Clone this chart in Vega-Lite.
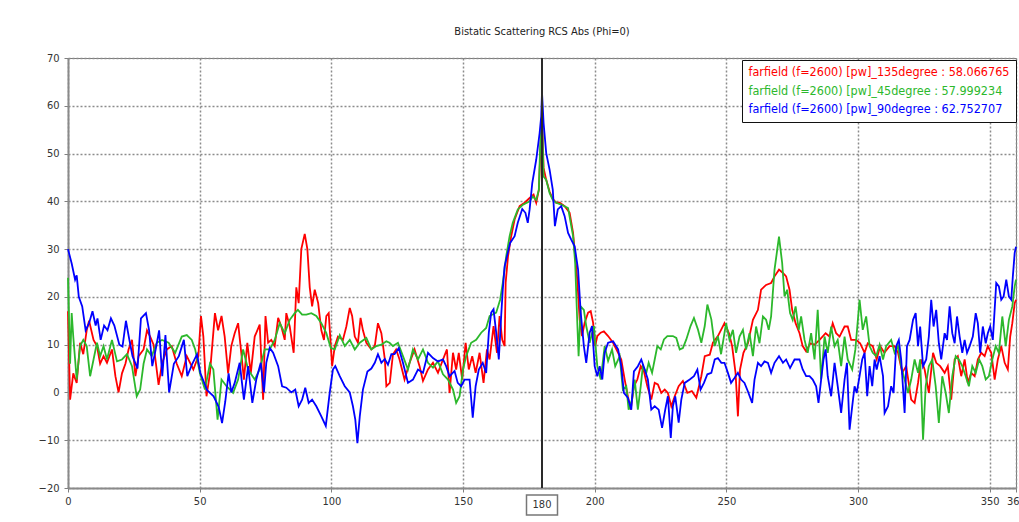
{
  "$schema": "https://vega.github.io/schema/vega-lite/v6.json",
  "width": 948,
  "height": 430,
  "autosize": {"type": "none"},
  "padding": {"left": 68, "top": 58, "right": 3, "bottom": 34},
  "background": "white",
  "title": {
    "text": "Bistatic Scattering RCS Abs (Phi=0)",
    "font": "DejaVu Sans Condensed, DejaVu Sans",
    "fontSize": 11,
    "fontWeight": "normal",
    "color": "#222222",
    "offset": 15
  },
  "config": {
    "font": "DejaVu Sans Condensed, DejaVu Sans",
    "view": {"stroke": "#7a7a7a", "strokeWidth": 1}
  },
  "datasets": {
    "deg135": [
      {"angle":0,"rcs":17},{"angle":0.8,"rcs":-1.5},{"angle":2,"rcs":4},{"angle":3.3,"rcs":2},{"angle":4.6,"rcs":10.4},{"angle":5.8,"rcs":8},{"angle":7.1,"rcs":13},{"angle":8,"rcs":15},{"angle":9.7,"rcs":11},{"angle":11,"rcs":9.7},{"angle":12.2,"rcs":6},{"angle":13.5,"rcs":7.6},{"angle":14.8,"rcs":6.2},{"angle":16.7,"rcs":9},{"angle":18,"rcs":3.4},{"angle":19.2,"rcs":0},{"angle":20.5,"rcs":4},{"angle":21.8,"rcs":6},{"angle":23,"rcs":9},{"angle":24.3,"rcs":11},{"angle":25.6,"rcs":3.4},{"angle":26.8,"rcs":7.6},{"angle":28.7,"rcs":9},{"angle":30,"rcs":13},{"angle":31.2,"rcs":11.7},{"angle":32.5,"rcs":10},{"angle":34.4,"rcs":1.6},{"angle":35.7,"rcs":6},{"angle":37.5,"rcs":9},{"angle":39.4,"rcs":9.7},{"angle":41.3,"rcs":6},{"angle":43.2,"rcs":3.4},{"angle":45.1,"rcs":7.6},{"angle":47.6,"rcs":4.8},{"angle":49.5,"rcs":7.6},{"angle":50.5,"rcs":16},{"angle":51.4,"rcs":11.7},{"angle":52.6,"rcs":-0.8},{"angle":53.9,"rcs":4},{"angle":55.8,"rcs":16.6},{"angle":57,"rcs":13},{"angle":58.3,"rcs":16},{"angle":59.5,"rcs":11.7},{"angle":60.8,"rcs":4},{"angle":62,"rcs":9.7},{"angle":63.3,"rcs":12.4},{"angle":64.6,"rcs":14.5},{"angle":65.8,"rcs":8.3},{"angle":66.8,"rcs":2.7},{"angle":68.1,"rcs":10.4},{"angle":69.4,"rcs":4},{"angle":70.9,"rcs":11.7},{"angle":72.8,"rcs":14.2},{"angle":74.1,"rcs":-1.5},{"angle":75,"rcs":16},{"angle":76,"rcs":10.4},{"angle":77.2,"rcs":11},{"angle":78.5,"rcs":9.7},{"angle":79.8,"rcs":15.6},{"angle":81,"rcs":13.8},{"angle":82.3,"rcs":11},{"angle":82.9,"rcs":16.6},{"angle":84.2,"rcs":13.8},{"angle":85.7,"rcs":8.3},{"angle":86.7,"rcs":22},{"angle":87.6,"rcs":18.7},{"angle":88.6,"rcs":30},{"angle":89.9,"rcs":33.2},{"angle":90.9,"rcs":30},{"angle":91.8,"rcs":22},{"angle":92.7,"rcs":18},{"angle":93.7,"rcs":21.5},{"angle":95,"rcs":18.7},{"angle":96.2,"rcs":13},{"angle":97.2,"rcs":11},{"angle":98.1,"rcs":16},{"angle":99,"rcs":16.6},{"angle":100.3,"rcs":5.5},{"angle":101.3,"rcs":9.7},{"angle":102.5,"rcs":11.7},{"angle":104.4,"rcs":11},{"angle":105.7,"rcs":13.8},{"angle":107,"rcs":17.7},{"angle":107.9,"rcs":16},{"angle":108.9,"rcs":11.7},{"angle":110.1,"rcs":10.4},{"angle":111.1,"rcs":15.6},{"angle":112,"rcs":13},{"angle":113.3,"rcs":10.4},{"angle":115.2,"rcs":9},{"angle":116.5,"rcs":9.7},{"angle":117.7,"rcs":14.5},{"angle":119,"rcs":12.4},{"angle":120.3,"rcs":7},{"angle":120.9,"rcs":1.3},{"angle":122.2,"rcs":2},{"angle":123.4,"rcs":8},{"angle":124.6,"rcs":9},{"angle":125.9,"rcs":6.9},{"angle":127.8,"rcs":2.7},{"angle":129.7,"rcs":6.2},{"angle":131.6,"rcs":9},{"angle":133.5,"rcs":5.5},{"angle":134.8,"rcs":2.4},{"angle":136.7,"rcs":4.8},{"angle":138.6,"rcs":6.2},{"angle":140.5,"rcs":4.1},{"angle":142.4,"rcs":6.9},{"angle":143.9,"rcs":9},{"angle":144.9,"rcs":-0.1},{"angle":146.2,"rcs":8.3},{"angle":147.4,"rcs":4.8},{"angle":148.4,"rcs":8.3},{"angle":149.7,"rcs":2.7},{"angle":151,"rcs":10.4},{"angle":152.2,"rcs":4.8},{"angle":153.5,"rcs":7.6},{"angle":154.8,"rcs":4.1},{"angle":156.3,"rcs":8.3},{"angle":157.8,"rcs":2},{"angle":159.1,"rcs":9},{"angle":160.1,"rcs":6.9},{"angle":161.6,"rcs":13.9},{"angle":162.9,"rcs":8.3},{"angle":163.9,"rcs":16},{"angle":164.9,"rcs":11},{"angle":165.8,"rcs":9.7},{"angle":166.2,"rcs":23},{"angle":167.1,"rcs":28.5},{"angle":168.3,"rcs":32.7},{"angle":169.6,"rcs":36.2},{"angle":171.5,"rcs":39},{"angle":173.4,"rcs":39.7},{"angle":175.3,"rcs":40.7},{"angle":176.8,"rcs":41.4},{"angle":177.8,"rcs":39.7},{"angle":178.8,"rcs":42.4},{"angle":179.5,"rcs":52},{"angle":180,"rcs":58.066765},{"angle":180.6,"rcs":47},{"angle":181.6,"rcs":44.5},{"angle":182.9,"rcs":42},{"angle":184.1,"rcs":40.5},{"angle":185.4,"rcs":39.7},{"angle":186.7,"rcs":39.7},{"angle":188.6,"rcs":39},{"angle":190.5,"rcs":37.6},{"angle":191.8,"rcs":33.4},{"angle":192.6,"rcs":28.5},{"angle":193.4,"rcs":23.6},{"angle":194.3,"rcs":15.3},{"angle":195.2,"rcs":11.8},{"angle":196.2,"rcs":14.6},{"angle":197.5,"rcs":16.7},{"angle":198.5,"rcs":17},{"angle":199.4,"rcs":14.6},{"angle":200.2,"rcs":9.7},{"angle":201,"rcs":11.8},{"angle":202.3,"rcs":12.5},{"angle":203.5,"rcs":12.8},{"angle":205.1,"rcs":11.8},{"angle":207,"rcs":10.4},{"angle":208.9,"rcs":8.3},{"angle":210.1,"rcs":6.9},{"angle":211.4,"rcs":2.7},{"angle":212.6,"rcs":-0.8},{"angle":213.7,"rcs":-3.6},{"angle":214.9,"rcs":1.3},{"angle":216.2,"rcs":2.7},{"angle":217.5,"rcs":5.5},{"angle":218.7,"rcs":4.4},{"angle":220,"rcs":1.3},{"angle":221.5,"rcs":-1.5},{"angle":222.8,"rcs":2},{"angle":224,"rcs":1.7},{"angle":225.3,"rcs":-0.1},{"angle":226.6,"rcs":0.6},{"angle":227.8,"rcs":-0.1},{"angle":229.1,"rcs":-2.9},{"angle":230.4,"rcs":-0.8},{"angle":231.9,"rcs":1.3},{"angle":233.5,"rcs":2.4},{"angle":235.2,"rcs":-0.1},{"angle":236.9,"rcs":0.3},{"angle":238.6,"rcs":-1.1},{"angle":240.5,"rcs":3.4},{"angle":241.8,"rcs":7.6},{"angle":243.7,"rcs":7.9},{"angle":244.9,"rcs":10.4},{"angle":246.8,"rcs":11.8},{"angle":248.1,"rcs":13.2},{"angle":249.3,"rcs":14.5},{"angle":251,"rcs":12.4},{"angle":252.2,"rcs":9.7},{"angle":253.5,"rcs":4.1},{"angle":254.4,"rcs":-5},{"angle":255.2,"rcs":4.8},{"angle":256.5,"rcs":8.3},{"angle":258.2,"rcs":10.3},{"angle":260.1,"rcs":15.2},{"angle":262,"rcs":17.3},{"angle":263.2,"rcs":21.5},{"angle":265.1,"rcs":22.5},{"angle":267,"rcs":22.9},{"angle":268.3,"rcs":24.3},{"angle":270,"rcs":25.7},{"angle":271.5,"rcs":25},{"angle":272.7,"rcs":24.3},{"angle":274,"rcs":21.5},{"angle":275,"rcs":17.3},{"angle":276.3,"rcs":14.5},{"angle":277.8,"rcs":12.4},{"angle":279,"rcs":9.7},{"angle":280.3,"rcs":8.6},{"angle":281.8,"rcs":10.3},{"angle":283.5,"rcs":10},{"angle":285.4,"rcs":11},{"angle":287.7,"rcs":12.4},{"angle":289.2,"rcs":11.7},{"angle":290.4,"rcs":14.5},{"angle":291.7,"rcs":12.4},{"angle":293,"rcs":11.7},{"angle":294.9,"rcs":13.8},{"angle":296.1,"rcs":13.8},{"angle":297.4,"rcs":11},{"angle":299.3,"rcs":11},{"angle":300.8,"rcs":10.3},{"angle":302.5,"rcs":8.3},{"angle":303.7,"rcs":10.3},{"angle":305.6,"rcs":9.7},{"angle":307.1,"rcs":6.9},{"angle":308.4,"rcs":9.7},{"angle":310,"rcs":8.3},{"angle":312,"rcs":9.7},{"angle":313.9,"rcs":9.7},{"angle":315.2,"rcs":8.3},{"angle":316.8,"rcs":4.1},{"angle":318.3,"rcs":5.5},{"angle":320.2,"rcs":-1.5},{"angle":321.5,"rcs":-2.2},{"angle":322.8,"rcs":2},{"angle":324,"rcs":6.9},{"angle":325.3,"rcs":4.8},{"angle":326.9,"rcs":-0.1},{"angle":328.5,"rcs":8.3},{"angle":329.7,"rcs":6.2},{"angle":331.2,"rcs":5.5},{"angle":332.9,"rcs":4.1},{"angle":334.1,"rcs":5.5},{"angle":335.4,"rcs":-1.5},{"angle":336.7,"rcs":6.9},{"angle":337.9,"rcs":7.6},{"angle":339.2,"rcs":3.4},{"angle":340.5,"rcs":6.9},{"angle":341.7,"rcs":2},{"angle":343,"rcs":4.1},{"angle":344.3,"rcs":3.4},{"angle":345.5,"rcs":6.9},{"angle":346.8,"rcs":8.3},{"angle":348.1,"rcs":7.6},{"angle":349.3,"rcs":9.7},{"angle":350.6,"rcs":8.3},{"angle":351.9,"rcs":2.7},{"angle":353.1,"rcs":6.9},{"angle":354.4,"rcs":9.7},{"angle":355.7,"rcs":6.2},{"angle":356.9,"rcs":4.8},{"angle":357.8,"rcs":11.7},{"angle":358.6,"rcs":14.5},{"angle":359.5,"rcs":18.7},{"angle":360,"rcs":19.4}
    ],
    "deg45": [
      {"angle":0,"rcs":24},{"angle":0.8,"rcs":6},{"angle":1.4,"rcs":16.6},{"angle":2,"rcs":11.7},{"angle":3.3,"rcs":2.7},{"angle":4.6,"rcs":9.7},{"angle":5.8,"rcs":11},{"angle":7.1,"rcs":9.7},{"angle":8.4,"rcs":3.4},{"angle":9.7,"rcs":6.9},{"angle":11,"rcs":10.4},{"angle":12.2,"rcs":7.6},{"angle":13.5,"rcs":9.7},{"angle":14.8,"rcs":6.9},{"angle":16.7,"rcs":11},{"angle":18.6,"rcs":6.5},{"angle":20.5,"rcs":6.9},{"angle":22.4,"rcs":8},{"angle":24.3,"rcs":5.5},{"angle":26.1,"rcs":-0.8},{"angle":27.4,"rcs":0.6},{"angle":28.7,"rcs":6},{"angle":30,"rcs":9},{"angle":31.8,"rcs":7.6},{"angle":33.7,"rcs":10.4},{"angle":35.7,"rcs":11},{"angle":38.2,"rcs":10.4},{"angle":40.7,"rcs":8.3},{"angle":43.2,"rcs":11.7},{"angle":45.1,"rcs":12},{"angle":47,"rcs":11},{"angle":48.3,"rcs":9},{"angle":50.1,"rcs":4},{"angle":52,"rcs":0.6},{"angle":53.9,"rcs":6},{"angle":55.2,"rcs":4.8},{"angle":56.8,"rcs":-5.7},{"angle":58.3,"rcs":2.7},{"angle":60.2,"rcs":1.3},{"angle":62.7,"rcs":-0.1},{"angle":64.6,"rcs":2.7},{"angle":66.5,"rcs":9},{"angle":68.4,"rcs":4.8},{"angle":70.9,"rcs":2.7},{"angle":72.8,"rcs":4.8},{"angle":74.7,"rcs":9},{"angle":76.6,"rcs":9},{"angle":78.5,"rcs":11},{"angle":80.4,"rcs":14.5},{"angle":82.3,"rcs":12.4},{"angle":84.2,"rcs":15.2},{"angle":86.1,"rcs":16.6},{"angle":87.3,"rcs":17.3},{"angle":88.9,"rcs":16.3},{"angle":90.5,"rcs":16.3},{"angle":92.4,"rcs":16.6},{"angle":94.3,"rcs":16},{"angle":96.2,"rcs":14.5},{"angle":98.1,"rcs":12.4},{"angle":99.8,"rcs":9.3},{"angle":101.3,"rcs":9},{"angle":103.2,"rcs":12},{"angle":105.1,"rcs":9.7},{"angle":107,"rcs":11},{"angle":108.9,"rcs":9},{"angle":110.8,"rcs":10.4},{"angle":113.3,"rcs":11.4},{"angle":115.2,"rcs":9},{"angle":117.1,"rcs":9.7},{"angle":119,"rcs":10},{"angle":120.9,"rcs":10.7},{"angle":122.1,"rcs":10.4},{"angle":123.4,"rcs":9.7},{"angle":125.3,"rcs":10.4},{"angle":127.2,"rcs":7.6},{"angle":129.1,"rcs":4.8},{"angle":131,"rcs":9},{"angle":132.9,"rcs":6.9},{"angle":134.8,"rcs":9},{"angle":136.7,"rcs":6.2},{"angle":138.6,"rcs":5.2},{"angle":140.5,"rcs":6.5},{"angle":142.4,"rcs":3.8},{"angle":144.3,"rcs":2.7},{"angle":146.2,"rcs":0.6},{"angle":147.4,"rcs":-2.2},{"angle":148.7,"rcs":-0.8},{"angle":150,"rcs":4.8},{"angle":151.2,"rcs":7.6},{"angle":153.1,"rcs":10.4},{"angle":155,"rcs":11},{"angle":156.9,"rcs":12.5},{"angle":158.8,"rcs":13.5},{"angle":160.1,"rcs":16},{"angle":162.6,"rcs":16.7},{"angle":164.1,"rcs":19.4},{"angle":165.1,"rcs":22.9},{"angle":166.4,"rcs":28.5},{"angle":167.7,"rcs":32.7},{"angle":168.9,"rcs":35.5},{"angle":170.8,"rcs":38.3},{"angle":172.8,"rcs":39.3},{"angle":175.3,"rcs":40},{"angle":176.5,"rcs":41},{"angle":177.8,"rcs":40.3},{"angle":178.8,"rcs":42.4},{"angle":179.3,"rcs":51.5},{"angle":180,"rcs":57.999234},{"angle":180.6,"rcs":45.2},{"angle":181.6,"rcs":44.5},{"angle":182.9,"rcs":41.7},{"angle":184.1,"rcs":40.3},{"angle":185.4,"rcs":39.7},{"angle":187.3,"rcs":39.3},{"angle":189.9,"rcs":38.6},{"angle":191.8,"rcs":32.7},{"angle":192.6,"rcs":27.1},{"angle":193.4,"rcs":14.6},{"angle":193.9,"rcs":7.6},{"angle":194.7,"rcs":18},{"angle":195.9,"rcs":17.3},{"angle":196.8,"rcs":13.9},{"angle":198.1,"rcs":10.4},{"angle":199.7,"rcs":13.9},{"angle":201,"rcs":5.5},{"angle":202.3,"rcs":2.7},{"angle":203.8,"rcs":9.7},{"angle":205.1,"rcs":6.6},{"angle":206.6,"rcs":9},{"angle":207.8,"rcs":5.5},{"angle":209.5,"rcs":7.6},{"angle":210.7,"rcs":0.6},{"angle":212,"rcs":1.3},{"angle":212.9,"rcs":-3.6},{"angle":214.2,"rcs":-1.5},{"angle":215.2,"rcs":2.7},{"angle":216.4,"rcs":-3.6},{"angle":217.5,"rcs":1.3},{"angle":218.3,"rcs":5.5},{"angle":219.6,"rcs":4.1},{"angle":220.5,"rcs":6.2},{"angle":221.8,"rcs":4.1},{"angle":222.8,"rcs":6.9},{"angle":223.8,"rcs":9.7},{"angle":225.1,"rcs":9},{"angle":226.3,"rcs":11.1},{"angle":227.6,"rcs":11.8},{"angle":229.7,"rcs":11.8},{"angle":231,"rcs":11.4},{"angle":232.3,"rcs":9},{"angle":233.5,"rcs":9.3},{"angle":234.8,"rcs":11.1},{"angle":236.4,"rcs":13.9},{"angle":237.7,"rcs":15.6},{"angle":239.2,"rcs":13.2},{"angle":240.5,"rcs":10.4},{"angle":241.8,"rcs":13.9},{"angle":242.8,"rcs":18.4},{"angle":244.3,"rcs":15.3},{"angle":245.6,"rcs":9.7},{"angle":246.8,"rcs":11.8},{"angle":248,"rcs":8},{"angle":249.9,"rcs":14.5},{"angle":251.2,"rcs":11},{"angle":252.5,"rcs":13.1},{"angle":253.7,"rcs":8.3},{"angle":255,"rcs":11.7},{"angle":256.3,"rcs":13.1},{"angle":257.5,"rcs":9},{"angle":258.8,"rcs":12.4},{"angle":260.1,"rcs":7.6},{"angle":261.3,"rcs":13.8},{"angle":262.6,"rcs":10.3},{"angle":263.9,"rcs":15.9},{"angle":265.1,"rcs":15.2},{"angle":266.1,"rcs":13.1},{"angle":267,"rcs":15.9},{"angle":268.3,"rcs":25.7},{"angle":270,"rcs":32.6},{"angle":271.2,"rcs":27.1},{"angle":272.1,"rcs":20.1},{"angle":273.1,"rcs":21.5},{"angle":274.2,"rcs":16.6},{"angle":275.2,"rcs":15.2},{"angle":276.3,"rcs":18},{"angle":277.5,"rcs":13.1},{"angle":278.4,"rcs":15.9},{"angle":279.7,"rcs":11},{"angle":280.9,"rcs":8.3},{"angle":282.2,"rcs":12.4},{"angle":283.5,"rcs":6.9},{"angle":284.7,"rcs":17.3},{"angle":286,"rcs":2.7},{"angle":287.3,"rcs":11.7},{"angle":288.5,"rcs":8.3},{"angle":289.8,"rcs":13.8},{"angle":291.1,"rcs":9.7},{"angle":292.3,"rcs":11},{"angle":293.6,"rcs":5.5},{"angle":294.9,"rcs":11.7},{"angle":296.1,"rcs":6.9},{"angle":297.8,"rcs":4.8},{"angle":299,"rcs":9},{"angle":300.6,"rcs":19.4},{"angle":301.8,"rcs":13.1},{"angle":303.1,"rcs":15.9},{"angle":304.4,"rcs":9.7},{"angle":305.6,"rcs":8.3},{"angle":306.9,"rcs":7.6},{"angle":308.2,"rcs":10},{"angle":309.5,"rcs":6.9},{"angle":310.7,"rcs":9.7},{"angle":312.6,"rcs":11},{"angle":313.9,"rcs":8.3},{"angle":315.2,"rcs":9.7},{"angle":316.4,"rcs":5.5},{"angle":317.7,"rcs":2.7},{"angle":319,"rcs":-0.1},{"angle":320.2,"rcs":2.7},{"angle":321.5,"rcs":6.9},{"angle":322.8,"rcs":4.1},{"angle":323.6,"rcs":6.9},{"angle":324.7,"rcs":-9.9},{"angle":325.7,"rcs":1.3},{"angle":326.9,"rcs":5.5},{"angle":328.2,"rcs":6.9},{"angle":329.5,"rcs":1.3},{"angle":330.7,"rcs":-6.4},{"angle":332,"rcs":3.4},{"angle":333.3,"rcs":-0.1},{"angle":334.5,"rcs":-4.3},{"angle":335.8,"rcs":3.4},{"angle":337.1,"rcs":7.6},{"angle":338.3,"rcs":6.9},{"angle":339.6,"rcs":5.5},{"angle":340.9,"rcs":3.4},{"angle":342.1,"rcs":1.3},{"angle":343.4,"rcs":5.5},{"angle":344.7,"rcs":4.1},{"angle":346,"rcs":6.9},{"angle":347.2,"rcs":5.5},{"angle":348.5,"rcs":2.7},{"angle":349.7,"rcs":3.4},{"angle":351,"rcs":6.9},{"angle":352.3,"rcs":9.7},{"angle":353.5,"rcs":8.3},{"angle":354.8,"rcs":15.9},{"angle":356.1,"rcs":9.7},{"angle":357.3,"rcs":15.2},{"angle":358.6,"rcs":18},{"angle":359.5,"rcs":22.2},{"angle":360,"rcs":23.6}
    ],
    "deg90": [
      {"angle":0,"rcs":30},{"angle":1.4,"rcs":27},{"angle":2.7,"rcs":23.6},{"angle":3.3,"rcs":24.5},{"angle":4.1,"rcs":20},{"angle":5.4,"rcs":18},{"angle":6.7,"rcs":13},{"angle":8,"rcs":14.5},{"angle":9.3,"rcs":17},{"angle":10.5,"rcs":14},{"angle":11.2,"rcs":15.5},{"angle":12.4,"rcs":11},{"angle":13.7,"rcs":14},{"angle":15,"rcs":13},{"angle":16.3,"rcs":15.5},{"angle":17.6,"rcs":14},{"angle":19.5,"rcs":10},{"angle":20.7,"rcs":9.6},{"angle":22,"rcs":15},{"angle":23.3,"rcs":11},{"angle":24.5,"rcs":7.6},{"angle":26.4,"rcs":5},{"angle":27.7,"rcs":15.5},{"angle":29.6,"rcs":16.6},{"angle":30.8,"rcs":13},{"angle":32,"rcs":5.5},{"angle":33.3,"rcs":9},{"angle":34.6,"rcs":13},{"angle":35.8,"rcs":3.4},{"angle":37,"rcs":12},{"angle":38.4,"rcs":0},{"angle":40.2,"rcs":6},{"angle":42.1,"rcs":7.6},{"angle":44,"rcs":11},{"angle":45.3,"rcs":3.4},{"angle":47.2,"rcs":6},{"angle":49,"rcs":8},{"angle":50.3,"rcs":4},{"angle":52.8,"rcs":0.5},{"angle":55.3,"rcs":-0.8},{"angle":57.2,"rcs":-3},{"angle":58.5,"rcs":-6.4},{"angle":59.7,"rcs":-2},{"angle":61,"rcs":4},{"angle":62,"rcs":0},{"angle":63.3,"rcs":2},{"angle":65.2,"rcs":6.2},{"angle":66.8,"rcs":-1.5},{"angle":68.4,"rcs":5.5},{"angle":70,"rcs":-2.2},{"angle":71.5,"rcs":2.7},{"angle":73.2,"rcs":6.2},{"angle":74.4,"rcs":0},{"angle":75.3,"rcs":6.2},{"angle":76.6,"rcs":9.3},{"angle":77.9,"rcs":8.3},{"angle":79.8,"rcs":5.5},{"angle":81.3,"rcs":1.3},{"angle":82.9,"rcs":1},{"angle":84.8,"rcs":0},{"angle":86.3,"rcs":0.6},{"angle":87.6,"rcs":-2.9},{"angle":88.9,"rcs":-1.5},{"angle":90.1,"rcs":1},{"angle":91.4,"rcs":-2.2},{"angle":92.7,"rcs":-1.5},{"angle":94.3,"rcs":-2.9},{"angle":96.2,"rcs":-5},{"angle":97.9,"rcs":-7},{"angle":99.4,"rcs":0},{"angle":100.6,"rcs":4.8},{"angle":101.5,"rcs":5.5},{"angle":103.2,"rcs":3.4},{"angle":105.1,"rcs":1.3},{"angle":107,"rcs":0},{"angle":108.2,"rcs":-2.9},{"angle":109.1,"rcs":-5.7},{"angle":109.9,"rcs":-10.6},{"angle":110.8,"rcs":-5},{"angle":112,"rcs":0.6},{"angle":113.7,"rcs":4.4},{"angle":115.2,"rcs":5},{"angle":116.5,"rcs":6.2},{"angle":117.7,"rcs":8},{"angle":119,"rcs":6.2},{"angle":120.3,"rcs":7},{"angle":121.5,"rcs":5.8},{"angle":122.8,"rcs":8},{"angle":124,"rcs":8},{"angle":125.6,"rcs":9.3},{"angle":127.2,"rcs":6.2},{"angle":129.1,"rcs":2},{"angle":131,"rcs":2.7},{"angle":132.9,"rcs":4.8},{"angle":134.8,"rcs":4.1},{"angle":136.7,"rcs":8.3},{"angle":138.6,"rcs":7.2},{"angle":140.5,"rcs":6.5},{"angle":142.4,"rcs":6.9},{"angle":143.6,"rcs":5.5},{"angle":144.9,"rcs":3.4},{"angle":146.8,"rcs":4.5},{"angle":148,"rcs":2},{"angle":149.3,"rcs":1.3},{"angle":150.6,"rcs":2.7},{"angle":152.5,"rcs":2.7},{"angle":153.7,"rcs":-5.3},{"angle":154.8,"rcs":1.3},{"angle":156,"rcs":4.8},{"angle":157.5,"rcs":6.2},{"angle":158.8,"rcs":4.1},{"angle":159.8,"rcs":12.5},{"angle":160.7,"rcs":16.7},{"angle":161.6,"rcs":17.4},{"angle":162.6,"rcs":12.5},{"angle":163.6,"rcs":6.9},{"angle":164.5,"rcs":16},{"angle":165.1,"rcs":21.5},{"angle":165.8,"rcs":26.4},{"angle":166.7,"rcs":28.5},{"angle":167.9,"rcs":31.3},{"angle":169.6,"rcs":32.7},{"angle":170.8,"rcs":35.5},{"angle":172.5,"rcs":38.4},{"angle":173.7,"rcs":37.6},{"angle":174.6,"rcs":35.5},{"angle":175.3,"rcs":38.3},{"angle":176.3,"rcs":43.8},{"angle":177.8,"rcs":48.7},{"angle":179.1,"rcs":54.3},{"angle":179.7,"rcs":57.8},{"angle":180,"rcs":62.752707},{"angle":180.6,"rcs":56.4},{"angle":181.6,"rcs":50.1},{"angle":182.9,"rcs":46.6},{"angle":184.1,"rcs":42.4},{"angle":184.9,"rcs":34.8},{"angle":186,"rcs":38.3},{"angle":187.3,"rcs":39},{"angle":188.6,"rcs":36.9},{"angle":189.9,"rcs":33.4},{"angle":191.1,"rcs":32},{"angle":192.4,"rcs":30.6},{"angle":193.7,"rcs":25.7},{"angle":194.7,"rcs":16.7},{"angle":195.9,"rcs":9.7},{"angle":196.8,"rcs":6.2},{"angle":198.1,"rcs":12.5},{"angle":199,"rcs":13.9},{"angle":200,"rcs":5.5},{"angle":201,"rcs":3.4},{"angle":201.9,"rcs":5.5},{"angle":202.9,"rcs":2.7},{"angle":203.8,"rcs":8.3},{"angle":205.1,"rcs":10.4},{"angle":207,"rcs":10.7},{"angle":208.9,"rcs":9},{"angle":210.1,"rcs":5.5},{"angle":211.1,"rcs":-0.1},{"angle":212.6,"rcs":-1.1},{"angle":213.9,"rcs":-3.6},{"angle":214.9,"rcs":4.4},{"angle":216.4,"rcs":5.5},{"angle":217.7,"rcs":6.9},{"angle":219,"rcs":4.8},{"angle":220.2,"rcs":2.7},{"angle":221.5,"rcs":-3.6},{"angle":222.8,"rcs":-2.9},{"angle":224.3,"rcs":-3.6},{"angle":225.6,"rcs":-7.4},{"angle":226.8,"rcs":-3.6},{"angle":227.8,"rcs":-0.8},{"angle":228.9,"rcs":-9.5},{"angle":229.7,"rcs":-2.9},{"angle":230.6,"rcs":-0.8},{"angle":231.9,"rcs":-6.3},{"angle":232.9,"rcs":-1.5},{"angle":234.2,"rcs":2},{"angle":236.1,"rcs":2.7},{"angle":237.7,"rcs":3.4},{"angle":239,"rcs":4.8},{"angle":240.2,"rcs":0.6},{"angle":241.5,"rcs":2},{"angle":242.8,"rcs":3.8},{"angle":244.3,"rcs":4.1},{"angle":245.6,"rcs":6.9},{"angle":246.8,"rcs":7.2},{"angle":248.1,"rcs":6.2},{"angle":249.3,"rcs":6.2},{"angle":250.6,"rcs":4.1},{"angle":251.8,"rcs":2},{"angle":253.1,"rcs":3},{"angle":254.4,"rcs":4.1},{"angle":255.6,"rcs":2.7},{"angle":256.9,"rcs":2},{"angle":258.2,"rcs":0.2},{"angle":259.8,"rcs":-2.2},{"angle":260.7,"rcs":2.7},{"angle":262,"rcs":6.2},{"angle":263.2,"rcs":5.5},{"angle":264.5,"rcs":6.5},{"angle":265.8,"rcs":6.2},{"angle":267,"rcs":4.1},{"angle":268.3,"rcs":6.2},{"angle":270,"rcs":7.6},{"angle":271.5,"rcs":6.2},{"angle":272.7,"rcs":6.9},{"angle":274.2,"rcs":5.1},{"angle":275.9,"rcs":6.9},{"angle":277.8,"rcs":6.9},{"angle":279,"rcs":4.8},{"angle":280.3,"rcs":3.4},{"angle":281.6,"rcs":3.4},{"angle":282.8,"rcs":2.7},{"angle":284.1,"rcs":1.3},{"angle":285,"rcs":-2.2},{"angle":286,"rcs":2.7},{"angle":286.9,"rcs":6.9},{"angle":287.7,"rcs":9},{"angle":288.5,"rcs":3.4},{"angle":289.8,"rcs":-0.8},{"angle":291.1,"rcs":6.2},{"angle":292.3,"rcs":1.3},{"angle":293.6,"rcs":-4.3},{"angle":294.9,"rcs":2.7},{"angle":295.8,"rcs":6.2},{"angle":296.8,"rcs":-7.8},{"angle":297.8,"rcs":-2.9},{"angle":298.7,"rcs":1.3},{"angle":299.5,"rcs":-0.1},{"angle":300.6,"rcs":3.4},{"angle":301.6,"rcs":6.9},{"angle":302.5,"rcs":8.3},{"angle":303.5,"rcs":-0.8},{"angle":304.4,"rcs":5.5},{"angle":305.4,"rcs":1.3},{"angle":306.3,"rcs":6.9},{"angle":307.1,"rcs":4.8},{"angle":308.2,"rcs":7.6},{"angle":309.5,"rcs":3.4},{"angle":310.1,"rcs":-4.3},{"angle":311.4,"rcs":-2.9},{"angle":312.6,"rcs":1.3},{"angle":313.5,"rcs":-0.1},{"angle":314.5,"rcs":9.7},{"angle":315.5,"rcs":11},{"angle":316.4,"rcs":6.9},{"angle":317.7,"rcs":-4.3},{"angle":318.6,"rcs":9.7},{"angle":319.6,"rcs":11},{"angle":320.9,"rcs":15.2},{"angle":321.9,"rcs":16.6},{"angle":322.8,"rcs":9.7},{"angle":323.6,"rcs":13.8},{"angle":324.7,"rcs":5.5},{"angle":325.9,"rcs":6.9},{"angle":326.9,"rcs":11.7},{"angle":327.8,"rcs":19.4},{"angle":328.7,"rcs":13.8},{"angle":329.7,"rcs":17.3},{"angle":330.7,"rcs":10.3},{"angle":331.6,"rcs":6.9},{"angle":332.9,"rcs":12.4},{"angle":333.8,"rcs":11},{"angle":334.8,"rcs":18},{"angle":335.8,"rcs":12.4},{"angle":336.7,"rcs":10.3},{"angle":337.6,"rcs":15.9},{"angle":338.6,"rcs":11.7},{"angle":339.6,"rcs":8.3},{"angle":340.5,"rcs":11},{"angle":341.4,"rcs":8.3},{"angle":342.4,"rcs":9.7},{"angle":343.6,"rcs":11.7},{"angle":344.7,"rcs":16.6},{"angle":345.5,"rcs":14.5},{"angle":346.4,"rcs":8.3},{"angle":347.4,"rcs":13.8},{"angle":348.5,"rcs":10.3},{"angle":349.3,"rcs":12.4},{"angle":350.2,"rcs":13.8},{"angle":351.2,"rcs":11},{"angle":352.5,"rcs":22.9},{"angle":353.5,"rcs":22.2},{"angle":354.4,"rcs":19.4},{"angle":355.3,"rcs":20.1},{"angle":356.3,"rcs":23.6},{"angle":357.3,"rcs":20.1},{"angle":358.2,"rcs":19.4},{"angle":358.8,"rcs":24.3},{"angle":359.5,"rcs":29.2},{"angle":360,"rcs":30.5}
    ],
    "marker": [
      {"angle": 180, "rcs": -20, "label": "180"}
    ]
  },
  "layer": [
    {
      "data": {"name": "deg135"},
      "mark": {"type": "line", "strokeWidth": 1.8},
      "encoding": {
        "x": {
          "field": "angle", "type": "quantitative", "title": null,
          "scale": {"domain": [0, 360], "nice": false, "zero": false},
          "axis": {
            "values": [0, 50, 100, 150, 200, 250, 300, 350, 360],
            "labelFlush": false,
            "labelOverlap": false,
            "labelFontSize": 11,
            "labelColor": "#333333",
            "labelPadding": 3,
            "tickSize": 4,
            "tickColor": "#808080",
            "domainColor": "#8a8a8a",
            "domainWidth": 2,
            "grid": true,
            "gridColor": "#8c8c8c",
            "gridDash": [2, 2],
            "gridWidth": 1.5
          }
        },
        "y": {
          "field": "rcs", "type": "quantitative", "title": "dBm2",
          "scale": {"domain": [-20, 70], "nice": false, "zero": false},
          "axis": {
            "titleFontSize": 11,
            "titleFontWeight": "normal",
            "titleColor": "#333333",
            "titlePadding": 10,
            "values": [-20, -10, 0, 10, 20, 30, 40, 50, 60, 70],
            "labelFontSize": 11,
            "labelColor": "#333333",
            "labelPadding": 5,
            "tickSize": 4,
            "tickColor": "#808080",
            "domainColor": "#8a8a8a",
            "domainWidth": 2,
            "grid": true,
            "gridColor": "#8c8c8c",
            "gridDash": [2, 2],
            "gridWidth": 1.5
          }
        },
        "color": {
          "datum": "135degree",
          "type": "nominal",
          "scale": {
            "domain": ["135degree", "45degree", "90degree"],
            "range": ["#ff0000", "#2cb82c", "#0000ff"]
          },
          "legend": {
            "orient": "none",
            "legendX": 674,
            "legendY": 2,
            "title": null,
            "labelFontSize": 12.5,
            "labelLimit": 400,
            "labelOffset": -12,
            "labelColor": {"expr": "scale('color', datum.value)"},
            "symbolSize": 0,
            "symbolStrokeWidth": 0,
            "symbolOpacity": 0,
            "rowPadding": 5.5,
            "padding": 6,
            "fillColor": "white",
            "strokeColor": "#111111",
            "labelExpr": "datum.label == '135degree' ? 'farfield (f=2600) [pw]_135degree : 58.066765' : datum.label == '45degree' ? 'farfield (f=2600) [pw]_45degree : 57.999234' : 'farfield (f=2600) [pw]_90degree : 62.752707'",
            "encode": {
              "legend": {"strokeWidth": {"value": 2}}
            }
          }
        }
      }
    },
    {
      "data": {"name": "deg45"},
      "mark": {"type": "line", "strokeWidth": 1.8},
      "encoding": {
        "x": {"field": "angle", "type": "quantitative", "title": null},
        "y": {"field": "rcs", "type": "quantitative", "title": null},
        "color": {"datum": "45degree", "type": "nominal"}
      }
    },
    {
      "data": {"name": "deg90"},
      "mark": {"type": "line", "strokeWidth": 1.8},
      "encoding": {
        "x": {"field": "angle", "type": "quantitative", "title": null},
        "y": {"field": "rcs", "type": "quantitative", "title": null},
        "color": {"datum": "90degree", "type": "nominal"}
      }
    },
    {
      "data": {"name": "marker"},
      "mark": {"type": "rule", "color": "#2a2a2a", "strokeWidth": 2},
      "encoding": {
        "x": {"field": "angle", "type": "quantitative", "title": null}
      }
    },
    {
      "data": {"name": "marker"},
      "mark": {
        "type": "point",
        "shape": "M-1.55,0.7H1.55V2.7H-1.55Z",
        "size": 400,
        "filled": false,
        "stroke": "#777777",
        "strokeWidth": 1.5,
        "opacity": 1
      },
      "encoding": {
        "x": {"field": "angle", "type": "quantitative", "title": null},
        "y": {"field": "rcs", "type": "quantitative", "title": null}
      }
    },
    {
      "data": {"name": "marker"},
      "mark": {"type": "text", "dy": 17, "fontSize": 11, "color": "#333333", "baseline": "middle", "align": "center"},
      "encoding": {
        "x": {"field": "angle", "type": "quantitative", "title": null},
        "y": {"field": "rcs", "type": "quantitative", "title": null},
        "text": {"field": "label"}
      }
    }
  ]
}
